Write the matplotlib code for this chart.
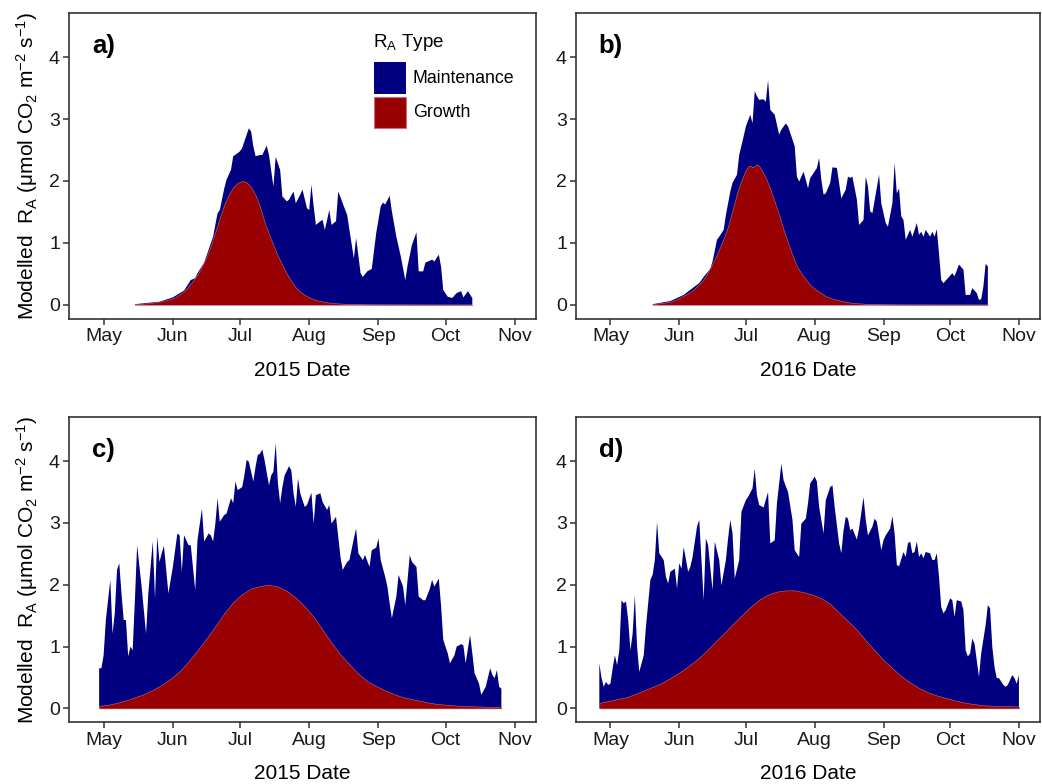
import numpy as np
import matplotlib
matplotlib.use("Agg")
import matplotlib.pyplot as plt
import matplotlib.dates as mdates
from matplotlib.patches import Rectangle

plt.rcParams["font.family"] = ["Liberation Sans", "DejaVu Sans"]
plt.rcParams["mathtext.fontset"] = "custom"
plt.rcParams["mathtext.rm"] = "Liberation Sans"
plt.rcParams["mathtext.it"] = "Liberation Sans"
plt.rcParams["mathtext.default"] = "regular"

MAINT_COLOR = "#000080"
GROWTH_COLOR = "#990000"
GROWTH_EDGE = "#c07080"
FRAME_COLOR = "#333333"

# all day values are counted from 1 May of the season

# a) 2015, short season
a_total_days = [14, 25, 31, 36, 39, 41, 42, 45, 47, 49, 51, 52, 54, 55, 57, 58, 60, 61, 62, 63,
                65, 66, 67, 68, 70, 71, 73, 74, 76, 77, 79, 80, 82, 83, 85, 86, 88, 89, 91, 92,
                93, 94, 95, 97, 98, 99, 101, 102, 104, 105, 107, 109, 110, 112, 113, 115, 116,
                118, 120, 122, 124, 125, 126, 128, 129, 131, 133, 135, 136, 138, 140, 141, 143,
                144, 147, 148, 150, 151, 152, 154, 156, 158, 160, 161, 163, 165]
a_total = [0.01, 0.05, 0.12, 0.23, 0.40, 0.43, 0.51, 0.68, 0.89, 1.10, 1.48, 1.53, 1.88, 2.02,
           2.18, 2.40, 2.45, 2.48, 2.53, 2.64, 2.85, 2.80, 2.56, 2.40, 2.42, 2.42, 2.57, 2.42,
           1.91, 2.39, 2.18, 1.75, 1.67, 1.70, 1.83, 1.64, 1.78, 1.86, 1.56, 1.53, 1.94, 1.59,
           1.29, 1.35, 1.37, 1.21, 1.53, 1.29, 1.35, 1.83, 1.64, 1.45, 1.21, 0.75, 1.08, 0.51,
           0.45, 0.54, 0.58, 1.16, 1.59, 1.65, 1.62, 1.76, 1.51, 1.10, 0.78, 0.40, 0.62, 0.97,
           1.17, 0.54, 0.54, 0.68, 0.73, 0.70, 0.81, 0.62, 0.24, 0.13, 0.11, 0.19, 0.22, 0.12,
           0.22, 0.11]
a_growth_days = [14, 20, 25, 28, 30, 32, 34, 36, 38, 40, 42, 44, 46, 48, 50, 52, 54, 56, 58, 60,
                 62, 64, 66, 68, 70, 72, 74, 76, 78, 80, 82, 84, 86, 88, 90, 92, 94, 97, 100,
                 104, 108, 115, 122, 140, 165]
a_growth = [0.01, 0.025, 0.05, 0.075, 0.095, 0.12, 0.17, 0.22, 0.30, 0.39, 0.49, 0.62, 0.77,
            0.96, 1.18, 1.41, 1.62, 1.78, 1.90, 1.97, 2.00, 1.98, 1.90, 1.77, 1.58, 1.34, 1.14,
            0.96, 0.79, 0.64, 0.50, 0.38, 0.28, 0.21, 0.16, 0.12, 0.09, 0.06, 0.04, 0.025,
            0.016, 0.009, 0.005, 0.002, 0.0]

# b) 2016, short season
b_total_days = [19, 27, 33, 37, 40, 42, 45, 46, 48, 49, 51, 52, 54, 55, 57, 58, 60, 61, 63, 64,
                65, 66, 67, 69, 70, 71, 72, 74, 76, 77, 79, 80, 82, 83, 84, 85, 87, 88, 89, 90,
                91, 93, 94, 95, 96, 97, 99, 100, 102, 103, 104, 106, 107, 108, 109, 111, 112,
                114, 115, 116, 117, 118, 121, 122, 124, 125, 127, 128, 129, 130, 131, 132, 133,
                135, 136, 138, 139, 140, 141, 142, 144, 145, 146, 147, 148, 149, 150, 152, 154,
                155, 157, 159, 160, 162, 163, 165, 166, 167, 168, 169, 170]
b_total = [0.01, 0.06, 0.16, 0.27, 0.35, 0.45, 0.58, 0.70, 1.05, 1.10, 1.21, 1.45, 1.83, 1.97,
           2.10, 2.42, 2.72, 2.88, 3.07, 2.93, 3.45, 3.37, 3.31, 3.32, 3.28, 3.63, 3.15, 3.07,
           2.75, 2.83, 2.93, 2.88, 2.67, 2.56, 2.07, 1.99, 2.15, 2.02, 1.88, 2.05, 2.10, 2.21,
           2.37, 2.02, 1.78, 1.80, 1.97, 2.22, 2.21, 1.97, 1.72, 1.86, 2.07, 2.05, 2.07, 1.70,
           1.29, 1.37, 2.07, 1.91, 1.51, 1.48, 2.10, 1.64, 1.32, 1.26, 1.64, 2.29, 1.80, 1.88,
           1.43, 1.37, 1.05, 1.21, 1.10, 1.32, 1.13, 1.18, 1.10, 1.21, 1.10, 1.18, 1.10, 1.22,
           0.83, 0.40, 0.35, 0.43, 0.51, 0.46, 0.65, 0.57, 0.16, 0.16, 0.27, 0.19, 0.08, 0.09,
           0.30, 0.66, 0.62]
b_growth_days = [19, 23, 27, 30, 33, 35, 37, 39, 41, 43, 45, 47, 49, 51, 53, 55, 57, 59, 61, 62,
                 63, 64, 65, 66, 67, 68, 70, 72, 74, 76, 78, 80, 82, 84, 86, 88, 90, 92, 94, 97,
                 100, 103, 109, 118, 130, 170]
b_growth = [0.01, 0.03, 0.05, 0.09, 0.15, 0.19, 0.23, 0.30, 0.37, 0.47, 0.60, 0.74, 0.90, 1.07,
            1.27, 1.53, 1.80, 2.01, 2.18, 2.23, 2.25, 2.22, 2.24, 2.27, 2.24, 2.18, 2.05, 1.87,
            1.66, 1.45, 1.21, 1.00, 0.80, 0.62, 0.51, 0.41, 0.32, 0.26, 0.21, 0.14, 0.10, 0.07,
            0.03, 0.01, 0.003, 0.0]

# c) 2015, full season
c_total_days = [-2, -1, 0, 1, 3, 4, 5, 6, 7, 8, 9, 10, 11, 12, 13, 14, 15, 17, 19, 20,
                22, 23, 24, 25, 26, 27, 29, 31, 33, 34, 35, 36, 38, 39, 41, 42, 44, 45, 47, 48,
                49, 50, 51, 52, 54, 55, 57, 58, 59, 60, 62, 63, 64, 65, 67, 68, 69, 70, 71, 72,
                74, 75, 76, 77, 78, 79, 80, 81, 83, 84, 85, 86, 87, 88, 90, 91, 93, 94, 95, 97,
                98, 100, 101, 102, 104, 106, 107, 109, 110, 112, 113, 114, 116, 117, 119, 120,
                122, 123, 124, 126, 127, 128, 129, 131, 132, 134, 135, 137, 138, 140, 141, 143,
                144, 146, 147, 148, 150, 151, 152, 154, 155, 157, 158, 160, 161, 162, 164, 165,
                166, 168, 169, 171, 173, 174, 175, 176, 177, 178]
c_total = [0.65, 0.65, 0.86, 1.43, 2.08, 1.21, 1.54, 2.24, 2.35, 1.86, 1.43, 1.43, 0.84, 1.00,
           0.94, 1.75, 2.64, 1.97, 1.21, 1.86, 2.70, 1.78, 2.78, 2.37, 2.51, 2.63, 1.86, 2.29,
           2.83, 2.80, 2.21, 2.80, 2.64, 2.64, 1.91, 2.72, 3.23, 2.70, 2.83, 2.80, 2.70, 2.99,
           3.40, 3.02, 3.13, 3.15, 3.40, 3.32, 3.67, 3.53, 3.58, 3.77, 4.02, 3.99, 3.67, 3.91,
           4.10, 4.12, 4.19, 4.02, 3.61, 3.77, 3.83, 4.29, 3.64, 3.32, 3.58, 3.77, 3.92, 3.85,
           3.48, 3.26, 3.72, 3.48, 3.26, 3.29, 3.49, 2.99, 3.45, 3.48, 3.34, 3.21, 3.29, 2.99,
           3.10, 2.45, 2.24, 2.37, 2.40, 2.75, 2.91, 2.51, 2.40, 2.48, 2.29, 2.56, 2.60, 2.75,
           2.40, 2.13, 1.97, 1.70, 1.46, 1.81, 2.16, 1.97, 1.67, 2.48, 2.37, 2.29, 1.81, 1.75,
           1.75, 1.94, 2.08, 1.97, 2.10, 1.67, 1.11, 0.89, 0.73, 0.86, 1.00, 1.04, 1.02, 0.73,
           1.19, 0.89, 0.57, 0.40, 0.22, 0.35, 0.65, 0.54, 0.49, 0.62, 0.35, 0.32]
c_growth_days = [-2, 2, 6, 10, 14, 18, 22, 26, 30, 34, 38, 42, 46, 50, 54, 58, 62, 66, 70, 74,
                 78, 82, 86, 90, 94, 98, 102, 106, 110, 114, 118, 122, 126, 130, 134, 138, 142,
                 146, 150, 155, 160, 169, 178]
c_growth = [0.04, 0.06, 0.09, 0.13, 0.18, 0.23, 0.30, 0.38, 0.48, 0.60, 0.76, 0.94, 1.13, 1.33,
            1.54, 1.72, 1.85, 1.94, 1.98, 2.00, 1.97, 1.90, 1.79, 1.65, 1.48, 1.27, 1.06, 0.87,
            0.71, 0.56, 0.44, 0.36, 0.29, 0.23, 0.18, 0.15, 0.12, 0.09, 0.07, 0.055, 0.04,
            0.03, 0.02]

# d) 2016, full season
d_total_days = [-5, -4, -3, -2, -1, 0, 1, 2, 3, 4, 5, 6, 7, 8, 9, 10, 11, 12, 13, 15,
                16, 18, 19, 20, 21, 22, 24, 25, 26, 27, 29, 30, 31, 32, 33, 35, 36, 37, 39, 40,
                41, 42, 43, 44, 46, 47, 49, 50, 52, 53, 54, 55, 56, 58, 59, 61, 62, 64, 65, 66,
                67, 69, 71, 72, 74, 75, 77, 78, 80, 82, 83, 85, 86, 88, 89, 90, 92, 93, 94, 96,
                97, 99, 100, 101, 103, 104, 105,
                106, 107, 108, 109, 111, 112, 114, 115, 116, 118, 119, 120, 122, 123, 124, 126,
                127, 128, 129, 130, 132, 133, 134, 135, 136, 137, 138, 139, 140, 141, 142, 144,
                145, 146, 147, 148, 149, 150, 151, 153, 154, 155, 156, 158, 159, 160, 161, 162,
                163, 164, 165, 166, 167, 169, 170, 171, 172, 173, 174, 175, 177, 178, 179, 180,
                181, 182, 183, 184]
d_total = [0.73, 0.49, 0.35, 0.43, 0.38, 0.40, 0.65, 0.86, 0.70, 0.94, 1.75, 1.70, 1.73, 1.43,
           0.94, 1.21, 1.83, 1.00, 0.59, 0.86, 1.32, 2.08, 2.16, 2.40, 3.02, 2.51, 2.40, 2.13,
           2.02, 2.21, 2.26, 1.94, 2.35, 2.26, 2.61, 2.21, 2.29, 2.45, 2.94, 3.05, 2.40, 1.75,
           2.75, 2.64, 1.91, 2.70, 2.40, 1.99, 2.40, 2.75, 3.05, 2.83, 2.10, 2.40, 3.18, 3.37,
           3.42, 3.56, 3.88, 3.45, 3.29, 3.25, 3.50, 2.67, 2.72, 3.32, 3.96, 3.69, 3.50, 3.05,
           2.56, 2.45, 2.99, 3.07, 3.32, 3.64, 3.75, 3.67, 3.26, 2.83, 3.37, 3.58, 3.61, 3.26,
           2.67, 2.51, 2.88,
           3.10, 3.07, 2.88, 2.91, 2.73, 2.91, 3.42, 3.05, 2.80, 2.94, 3.07, 3.02, 2.56, 2.72,
           2.80, 2.91, 3.11, 2.83, 2.32, 2.30, 2.53, 2.45, 2.67, 2.70, 2.51, 2.53, 2.70, 2.45,
           2.51, 2.43, 2.53, 2.51, 2.40, 2.40, 2.51, 2.13, 1.64, 1.54, 1.59, 1.78, 1.75, 1.48,
           1.75, 1.73, 1.59, 0.94, 0.84, 0.89, 1.13, 1.05, 0.78, 0.51, 0.89, 1.35, 1.67, 1.62,
           1.00, 0.67, 0.49, 0.49, 0.38, 0.35, 0.38, 0.46, 0.54, 0.49, 0.40, 0.54]
d_growth_days = [-5, -1, 3, 7, 11, 15, 19, 23, 27, 31, 35, 39, 43, 47, 51, 55, 59, 63, 67, 71,
                 75, 79, 83, 87, 91, 95, 99, 103, 107, 111, 115, 119, 123, 127, 131, 135, 139,
                 143, 147, 151, 155, 160, 168, 175, 184]
d_growth = [0.09, 0.12, 0.15, 0.18, 0.23, 0.29, 0.35, 0.41, 0.49, 0.58, 0.68, 0.79, 0.92, 1.07,
            1.21, 1.36, 1.50, 1.64, 1.76, 1.84, 1.89, 1.91, 1.91, 1.88, 1.84, 1.78, 1.69, 1.55,
            1.41, 1.27, 1.10, 0.94, 0.78, 0.65, 0.52, 0.42, 0.33, 0.26, 0.21, 0.17, 0.13, 0.09,
            0.05, 0.04, 0.03]

Y_LABEL = "Modelled  R$_A$ (μmol CO$_2$ m$^{-2}$ s$^{-1}$)"


def to_dates(year, days):
    start = np.datetime64(f"{year}-05-01")
    return start + np.array(days).astype("timedelta64[D]")


def draw_panel(ax, year, total_days, total, growth_days, growth, tag, ylabel):
    ax.fill_between(to_dates(year, total_days), 0, total,
                    facecolor=MAINT_COLOR, edgecolor="none", lw=0)
    ax.fill_between(to_dates(year, growth_days), 0, growth,
                    facecolor=GROWTH_COLOR, edgecolor=GROWTH_EDGE, lw=0.4)

    ax.set_xlim(np.datetime64(f"{year}-04-15T12:00"), np.datetime64(f"{year}-11-10T12:00"))
    ax.set_ylim(-0.2245, 4.714)
    ax.set_yticks([0, 1, 2, 3, 4])
    ax.xaxis.set_major_locator(mdates.MonthLocator(bymonth=range(5, 12)))
    ax.xaxis.set_major_formatter(mdates.DateFormatter("%b"))

    for side in ax.spines.values():
        side.set_color(FRAME_COLOR)
        side.set_linewidth(1.2)
    ax.tick_params(direction="out", length=4, width=1.1, color=FRAME_COLOR,
                   labelsize=14, labelcolor="#1a1a1a")
    ax.tick_params(axis="x", pad=3)
    ax.tick_params(axis="y", pad=2.5)

    ax.set_xlabel(f"{year} Date", fontsize=15, va="center")
    ax.xaxis.set_label_coords(0.5, -0.168)
    if ylabel:
        ax.set_ylabel(Y_LABEL, fontsize=15, va="center")
        ax.yaxis.set_label_coords(-0.09, 0.5)

    ax.text(0.049, 0.893, tag, transform=ax.transAxes, fontsize=18.5,
            fontweight="bold", ha="left", va="center")


fig = plt.figure(figsize=(10.42, 7.84), dpi=100)
ax_a = fig.add_axes([0.0662, 0.5935, 0.4482, 0.390])
ax_b = fig.add_axes([0.5528, 0.5935, 0.4453, 0.390])
ax_c = fig.add_axes([0.0662, 0.0787, 0.4482, 0.3894])
ax_d = fig.add_axes([0.5528, 0.0787, 0.4453, 0.3894])

draw_panel(ax_a, 2015, a_total_days, a_total, a_growth_days, a_growth, "a)", True)
draw_panel(ax_b, 2016, b_total_days, b_total, b_growth_days, b_growth, "b)", False)
draw_panel(ax_c, 2015, c_total_days, c_total, c_growth_days, c_growth, "c)", True)
draw_panel(ax_d, 2016, d_total_days, d_total, d_growth_days, d_growth, "d)", False)

# legend keys drawn by hand in panel a
ax_a.text(0.651, 0.902, "R$_A$ Type", transform=ax_a.transAxes, fontsize=13.5,
          ha="left", va="center")
ax_a.add_patch(Rectangle((0.653, 0.736), 0.0685, 0.1037, transform=ax_a.transAxes,
                         facecolor=MAINT_COLOR, edgecolor="none", clip_on=False))
ax_a.add_patch(Rectangle((0.653, 0.623), 0.0685, 0.1034, transform=ax_a.transAxes,
                         facecolor=GROWTH_COLOR, edgecolor=GROWTH_EDGE, lw=0.8, clip_on=False))
ax_a.text(0.7366, 0.786, "Maintenance", transform=ax_a.transAxes, fontsize=12.8,
          ha="left", va="center")
ax_a.text(0.7366, 0.674, "Growth", transform=ax_a.transAxes, fontsize=12.8,
          ha="left", va="center")

fig.savefig("out.png", dpi=100, facecolor="white")
